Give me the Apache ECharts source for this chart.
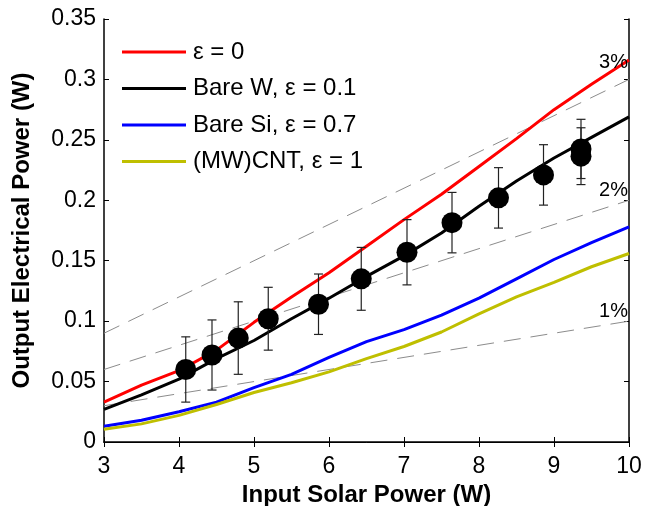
<!DOCTYPE html>
<html>
<head>
<meta charset="utf-8">
<script src="https://cdn.jsdelivr.net/npm/echarts@6/dist/echarts.min.js"></script>
<style>
html, body { margin: 0; padding: 0; background: #fff; }
#main { width: 646px; height: 506px; }
</style>
</head>
<body>
<div id="main"></div>
<script>
// simulated curves, sampled every 0.5 W
var xs = [3, 3.5, 4, 4.5, 5, 5.5, 6, 6.5, 7, 7.5, 8, 8.5, 9, 9.5, 10];
var redVals = [0.033, 0.047, 0.059, 0.076, 0.099, 0.120, 0.140, 0.162, 0.184, 0.205, 0.228, 0.251, 0.275, 0.296, 0.316];
var blackVals = [0.027, 0.039, 0.052, 0.069, 0.084, 0.102, 0.119, 0.137, 0.154, 0.173, 0.195, 0.216, 0.235, 0.252, 0.269];
var blueVals = [0.013, 0.018, 0.025, 0.033, 0.045, 0.056, 0.070, 0.083, 0.093, 0.105, 0.119, 0.135, 0.151, 0.165, 0.178];
var yellowVals = [0.0105, 0.015, 0.022, 0.031, 0.041, 0.049, 0.058, 0.069, 0.079, 0.091, 0.106, 0.120, 0.132, 0.145, 0.156];

// efficiency guide lines
var effX = [3, 4, 5, 6, 7, 8, 9, 10];
var eff3 = [0.09, 0.12, 0.15, 0.18, 0.21, 0.24, 0.27, 0.30];
var eff2 = [0.06, 0.08, 0.10, 0.12, 0.14, 0.16, 0.18, 0.20];
var eff1 = [0.03, 0.04, 0.05, 0.06, 0.07, 0.08, 0.09, 0.10];

// measured points with error
var ptX = [4.09, 4.44, 4.79, 5.19, 5.86, 6.43, 7.04, 7.64, 8.26, 8.86, 9.36, 9.36];
var ptY = [0.060, 0.072, 0.086, 0.102, 0.114, 0.135, 0.157, 0.1815, 0.202, 0.221, 0.2425, 0.2365];
var ptErr = [0.027, 0.029, 0.030, 0.026, 0.025, 0.026, 0.027, 0.025, 0.025, 0.025, 0.0245, 0.0235];

var names = ['ε = 0', 'Bare W, ε = 0.1', 'Bare Si, ε = 0.7', '(MW)CNT, ε = 1'];
var colors = ['#ff0000', '#000000', '#0000ff', '#bfbf00'];

function pairs(a, b) {
    return a.map(function (v, i) { return [v, b[i]]; });
}

var myChart = echarts.init(document.getElementById('main'));

var font = 'Liberation Sans, Arial, sans-serif';

function effSeries(vals, txt, dy) {
    return {
        type: 'line',
        data: pairs(effX, vals),
        showSymbol: false,
        silent: true,
        z: 1,
        lineStyle: { color: '#8c8c8c', width: 1, type: [17, 10] },
        markPoint: {
            silent: true,
            symbol: 'circle',
            symbolSize: 0,
            data: [{ coord: [10, vals[vals.length - 1]] }],
            label: {
                show: true,
                formatter: txt,
                position: 'left',
                distance: 1,
                offset: [0, dy],
                color: '#000',
                fontFamily: font,
                fontSize: 20
            }
        }
    };
}

var curveVals = [redVals, blackVals, blueVals, yellowVals];
var series = [
    effSeries(eff3, '3%', -17),
    effSeries(eff2, '2%', -10),
    effSeries(eff1, '1%', -10)
];
curveVals.forEach(function (vals, i) {
    series.push({
        name: names[i],
        type: 'line',
        data: pairs(xs, vals),
        showSymbol: false,
        z: 3,
        lineStyle: { color: colors[i], width: 3 },
        itemStyle: { color: colors[i] }
    });
});

series.push({
    type: 'custom',
    z: 5,
    silent: true,
    data: ptX.map(function (x, i) { return [x, ptY[i] - ptErr[i], ptY[i] + ptErr[i]]; }),
    encode: { x: 0, y: [1, 2] },
    renderItem: function (params, api) {
        var lo = api.coord([api.value(0), api.value(1)]);
        var hi = api.coord([api.value(0), api.value(2)]);
        var w = 4.5;
        var st = { stroke: '#222', lineWidth: 1.2 };
        return {
            type: 'group',
            children: [
                { type: 'line', shape: { x1: lo[0], y1: lo[1], x2: hi[0], y2: hi[1] }, style: st },
                { type: 'line', shape: { x1: lo[0] - w, y1: lo[1], x2: lo[0] + w, y2: lo[1] }, style: st },
                { type: 'line', shape: { x1: hi[0] - w, y1: hi[1], x2: hi[0] + w, y2: hi[1] }, style: st }
            ]
        };
    }
});

series.push({
    type: 'scatter',
    z: 6,
    silent: true,
    data: pairs(ptX, ptY),
    symbol: 'circle',
    symbolSize: 21,
    itemStyle: { color: '#000', opacity: 1 }
});

var tickStyle = { show: true, inside: true, length: 5, lineStyle: { color: '#000', width: 1 } };

myChart.setOption(option = {
    animation: false,
    backgroundColor: '#fff',
    textStyle: { fontFamily: font },
    grid: { left: 104, right: 17, top: 19, bottom: 64, containLabel: false, outerBoundsMode: 'none' },
    legend: {
        data: names,
        orient: 'vertical',
        left: 122,
        top: 39,
        padding: 0,
        itemWidth: 64,
        itemHeight: 3,
        itemGap: 10.5,
        icon: 'rect',
        selectedMode: false,
        textStyle: { fontFamily: font, fontSize: 24, color: '#000', lineHeight: 26, padding: [0, 0, 0, 2] }
    },
    xAxis: [{
        type: 'value',
        min: 3,
        max: 10,
        interval: 1,
        name: 'Input Solar Power (W)',
        nameLocation: 'middle',
        nameGap: 36,
        nameTextStyle: { fontFamily: font, fontSize: 24, fontWeight: 'bold', color: '#000' },
        axisLine: { show: true, onZero: false, lineStyle: { color: '#000', width: 1.5 } },
        axisTick: tickStyle,
        axisLabel: { fontFamily: font, fontSize: 23, color: '#000', margin: 13 },
        splitLine: { show: false }
    }, {
        type: 'value',
        position: 'top',
        min: 3,
        max: 10,
        interval: 1,
        axisLine: { show: true, lineStyle: { color: '#000', width: 1 } },
        axisTick: tickStyle,
        axisLabel: { show: false },
        splitLine: { show: false }
    }],
    yAxis: [{
        type: 'value',
        min: 0,
        max: 0.35,
        interval: 0.05,
        name: 'Output Electrical Power (W)',
        nameLocation: 'middle',
        nameGap: 70,
        nameTextStyle: { fontFamily: font, fontSize: 24, fontWeight: 'bold', color: '#000' },
        axisLine: { show: true, onZero: false, lineStyle: { color: '#000', width: 1.5 } },
        axisTick: tickStyle,
        axisLabel: { fontFamily: font, fontSize: 23, color: '#000', margin: 8 },
        splitLine: { show: false }
    }, {
        type: 'value',
        position: 'right',
        min: 0,
        max: 0.35,
        interval: 0.05,
        axisLine: { show: true, lineStyle: { color: '#000', width: 1.5 } },
        axisTick: tickStyle,
        axisLabel: { show: false },
        splitLine: { show: false }
    }],
    series: series
});
</script>
</body>
</html>
